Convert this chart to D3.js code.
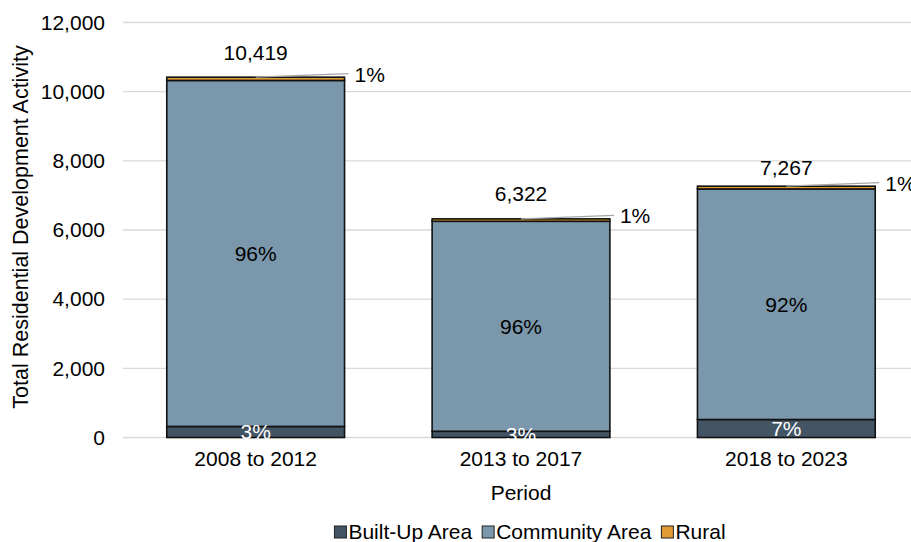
<!DOCTYPE html>
<html>
<head>
<meta charset="utf-8">
<script src="https://cdn.jsdelivr.net/npm/d3@7/dist/d3.min.js"></script>
<style>
  html, body { margin: 0; padding: 0; background: #fff; }
  svg { display: block; font-family: "Liberation Sans", Arial, sans-serif; }
</style>
</head>
<body>
<svg id="chart" width="911" height="542"></svg>
<script>
// ---- data ----
const periods = ["2008 to 2012", "2013 to 2017", "2018 to 2023"];
const seriesNames = ["Built-Up Area", "Community Area", "Rural"];
const builtUp = [320, 180, 520];
const community = [10004, 6072, 6667];
const rural = [95, 70, 80];
const totals = [10419, 6322, 7267];
const builtUpPct = ["3%", "3%", "7%"];
const communityPct = ["96%", "96%", "92%"];
const ruralPct = ["1%", "1%", "1%"];
const yTicks = [0, 2000, 4000, 6000, 8000, 10000, 12000];

// ---- styles ----
const colors = { "Built-Up Area": "#435465", "Community Area": "#7b97ab", "Rural": "#e29b32" };
const FS = 21;
const totalDy = [-25, -25, -19];

const svg = d3.select("#chart");
const x = d3.scaleBand().domain(periods).range([123, 919]).paddingInner(0.33).paddingOuter(0.165);
const y = d3.scaleLinear().domain([0, 12000]).range([437.5, 22.5]);

// gridlines
svg.append("g").selectAll("line").data(yTicks).join("line")
  .attr("x1", 123).attr("x2", 911)
  .attr("y1", d => y(d)).attr("y2", d => y(d))
  .attr("stroke", "#d9d9d9").attr("stroke-width", 1.3);

// y axis labels
const yAxis = d3.axisLeft(y).tickValues(yTicks).tickFormat(d3.format(",")).tickSize(0).tickPadding(0);
const ya = svg.append("g").attr("transform", "translate(105,0)").call(yAxis);
ya.select(".domain").remove();
ya.selectAll("text").attr("font-size", FS).attr("fill", "#000").attr("font-family", "Liberation Sans, Arial, sans-serif");

// x axis labels
const xAxis = d3.axisBottom(x).tickSize(0).tickPadding(0);
const xa = svg.append("g").attr("transform", "translate(0,451)").call(xAxis);
xa.select(".domain").remove();
xa.selectAll("text").attr("font-size", FS).attr("fill", "#000").attr("font-family", "Liberation Sans, Arial, sans-serif");

// stacked bars
const rows = periods.map((p, i) => ({ period: p, "Built-Up Area": builtUp[i], "Community Area": community[i], "Rural": rural[i] }));
const stack = d3.stack().keys(seriesNames)(rows);

const gBars = svg.append("g");
stack.forEach(layer => {
  gBars.append("g").selectAll("rect").data(layer).join("rect")
    .attr("x", d => x(d.data.period))
    .attr("width", x.bandwidth())
    .attr("y", d => y(d[1]))
    .attr("height", d => y(d[0]) - y(d[1]))
    .attr("fill", colors[layer.key])
    .attr("stroke", "#111")
    .attr("stroke-width", 1.6);
});

// built-up labels (white)
svg.append("g").selectAll("text").data(stack[0]).join("text")
  .attr("x", d => x(d.data.period) + x.bandwidth() / 2)
  .attr("y", d => (y(d[0]) + y(d[1])) / 2)
  .attr("dy", "0.35em")
  .attr("text-anchor", "middle").attr("font-size", FS).attr("fill", "#fff")
  .text((d, i) => builtUpPct[i]);

// community labels
svg.append("g").selectAll("text").data(stack[1]).join("text")
  .attr("x", d => x(d.data.period) + x.bandwidth() / 2)
  .attr("y", d => (y(d[0]) + y(d[1])) / 2)
  .attr("dy", "0.35em")
  .attr("text-anchor", "middle").attr("font-size", FS).attr("fill", "#000")
  .text((d, i) => communityPct[i]);

// rural leader lines and labels
const gR = svg.append("g");
stack[2].forEach((d, i) => {
  const cx = x(d.data.period) + x.bandwidth() / 2;
  const right = x(d.data.period) + x.bandwidth();
  const top = y(d[1]);
  gR.append("line")
    .attr("x1", cx).attr("y1", top)
    .attr("x2", right + 4).attr("y2", top - 3.5)
    .attr("stroke", "#a6a6a6").attr("stroke-width", 1.2);
  gR.append("text")
    .attr("x", right + 10).attr("y", top - 3).attr("dy", "0.35em")
    .attr("font-size", FS).attr("fill", "#000")
    .text(ruralPct[i]);
});

// totals
svg.append("g").selectAll("text").data(periods).join("text")
  .attr("x", p => x(p) + x.bandwidth() / 2)
  .attr("y", (p, i) => y(totals[i]) + totalDy[i])
  .attr("dy", "0.35em")
  .attr("text-anchor", "middle").attr("font-size", FS).attr("fill", "#000")
  .text((p, i) => d3.format(",")(totals[i]));

// axis titles
svg.append("text")
  .attr("transform", "translate(20,227) rotate(-90)")
  .attr("dy", "0.35em")
  .attr("text-anchor", "middle").attr("font-size", 21.5).attr("fill", "#000")
  .text("Total Residential Development Activity");
svg.append("text")
  .attr("x", 521).attr("y", 493).attr("dy", "0.35em")
  .attr("text-anchor", "middle").attr("font-size", FS).attr("fill", "#000")
  .text("Period");

// legend
const lg = svg.append("g");
let lx = 0;
seriesNames.forEach(name => {
  const g = lg.append("g").attr("transform", `translate(${lx},0)`);
  g.append("rect").attr("x", 0).attr("y", -6).attr("width", 12).attr("height", 12)
    .attr("fill", colors[name]).attr("stroke", "#222").attr("stroke-width", 1);
  const t = g.append("text").attr("x", 14).attr("y", 0).attr("dy", "0.35em")
    .attr("font-size", FS).attr("fill", "#000").text(name);
  const w = t.node().getComputedTextLength();
  lx += 14 + w + 10;
});
const totalW = lx - 10;
lg.attr("transform", `translate(${530 - totalW / 2},532)`);
</script>
</body>
</html>
